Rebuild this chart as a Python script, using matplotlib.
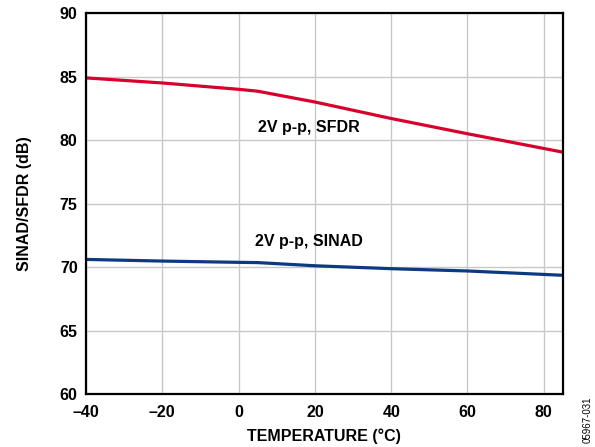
import matplotlib
matplotlib.use('Agg')
import matplotlib.pyplot as plt

# SINAD/SFDR vs temperature, 2V p-p input
temp = [-40, -20, 0, 5, 20, 40, 60, 85]
sfdr = [84.9, 84.5, 84.0, 83.85, 83.0, 81.7, 80.5, 79.05]
sinad = [70.6, 70.47, 70.37, 70.35, 70.1, 69.87, 69.69, 69.35]

xticks = [-40, -20, 0, 20, 40, 60, 80]
yticks = [60, 65, 70, 75, 80, 85, 90]

plt.rcParams['font.family'] = ['Liberation Sans', 'DejaVu Sans']
plt.rcParams['font.weight'] = 'bold'

fig = plt.figure(figsize=(5.95, 4.47), dpi=100)
ax = fig.add_axes([0.1445, 0.1186, 0.8015, 0.852])

ax.plot(temp, sfdr, color='#d8002c', lw=2.3, solid_capstyle='butt')
ax.plot(temp, sinad, color='#0c3a80', lw=2.3, solid_capstyle='butt')

ax.text(5, 81.0, '2V p-p, SFDR', fontsize=11.5, fontweight='bold', va='center', ha='left')
ax.text(4.3, 72.0, '2V p-p, SINAD', fontsize=11.5, fontweight='bold', va='center', ha='left')

ax.set_xlim(-40, 85)
ax.set_ylim(60, 90)
ax.set_xticks(xticks)
ax.set_yticks(yticks)
ax.set_xticklabels(['\u2013' + str(-t) if t < 0 else str(t) for t in xticks])
ax.tick_params(length=0, labelsize=11.5)
ax.tick_params(axis='x', pad=8)
ax.tick_params(axis='y', pad=6)
for lbl in ax.get_xticklabels() + ax.get_yticklabels():
    lbl.set_fontweight('bold')
ax.grid(True, color='#c8c8c8', lw=1.0)
ax.set_axisbelow(True)
for s in ax.spines.values():
    s.set_linewidth(1.6)
    s.set_color('black')

ax.set_xlabel('TEMPERATURE (\u00b0C)', fontsize=11.5, fontweight='bold', labelpad=6)
ax.set_ylabel('SINAD/SFDR (dB)', fontsize=11.5, fontweight='bold', labelpad=20)

fig.text(0.988, 0.06, '05967-031', rotation=90, fontsize=7, fontweight='normal',
         ha='center', va='center')

fig.savefig('out.png', dpi=100)
